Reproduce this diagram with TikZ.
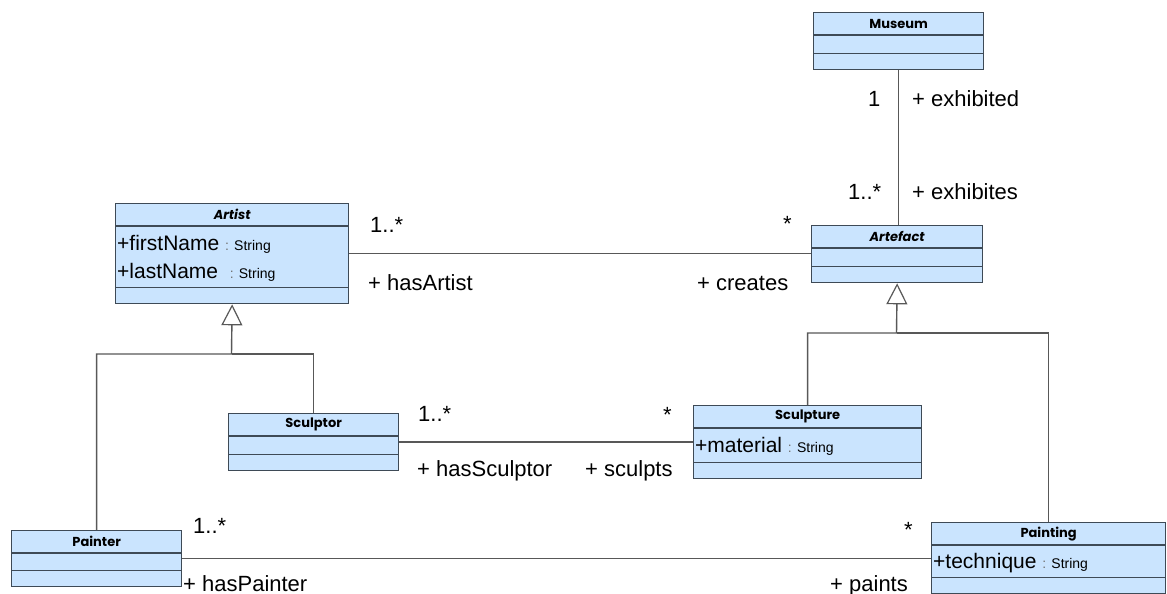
\documentclass[tikz,border=0pt]{standalone}
\usepackage{fontspec}
\setmainfont{Liberation Sans}
\newfontfamily\clsfont{Poppins}
\usetikzlibrary{arrows.meta,positioning}

\definecolor{clsfill}{RGB}{202,228,254}
\definecolor{clsline}{RGB}{62,74,86}
\definecolor{conn}{RGB}{88,88,88}

\begin{document}
\begin{tikzpicture}[
		x=1pt, y=-1pt,
		cls/.style={rectangle, draw=clsline, fill=clsfill, line width=1.3pt, anchor=north west, inner sep=0pt},
		clsname/.style={inner sep=0pt, minimum height=23pt, font=\clsfont\fontsize{13}{15}\selectfont\bfseries},
		attr/.style={anchor=base west, inner sep=0pt, font=\fontsize{21}{24}\selectfont},
		lbl/.style={anchor=base west, inner sep=0pt, font=\fontsize{22}{26}\selectfont},
		assoc/.style={draw=conn, line width=1.4pt},
		gen/.style={assoc, -{Triangle[open, length=21pt, width=21pt, line width=1.2pt]}}
	]
		\useasboundingbox (0,0) rectangle (1167,594);
		\newcommand{\typ}[1]{{\fontsize{14}{16}\selectfont\textcolor{black!55}{:} #1}}

		% classes
		\node[cls, minimum width=170pt, minimum height=57pt](museum) at (813,12) {};
		\node[cls, minimum width=233pt, minimum height=100pt](artist) at (115,203) {};
		\node[cls, minimum width=171pt, minimum height=57pt](artefact) at (811,225) {};
		\node[cls, minimum width=170pt, minimum height=57pt](sculptor) at (228,413) {};
		\node[cls, minimum width=228pt, minimum height=73pt](sculpture) at (693,405) {};
		\node[cls, minimum width=170pt, minimum height=56pt](painter) at (11,530) {};
		\node[cls, minimum width=234pt, minimum height=71pt](painting) at (931,522) {};

		\node[clsname, below=0pt of museum.north](museum-t){Museum};
		\node[clsname, below=0pt of artist.north](artist-t){\itshape Artist};
		\node[clsname, below=0pt of artefact.north](artefact-t){\itshape Artefact};
		\node[clsname, below=0pt of sculptor.north](sculptor-t){Sculptor};
		\node[clsname, below=0pt of sculpture.north](sculpture-t){Sculpture};
		\node[clsname, below=0pt of painter.north](painter-t){Painter};
		\node[clsname, below=0pt of painting.north](painting-t){Painting};

		\foreach \c in {museum,artist,artefact,sculptor,sculpture,painter,painting}{
			\draw[clsline, line width=1.1pt]([yshift=-23pt]\c.north west) -- ([yshift=-23pt]\c.north east);
			\draw[clsline, line width=1.1pt]([yshift=17pt]\c.south west) -- ([yshift=17pt]\c.south east);
		}

		% attributes
		\node[attr](artist-a1) at (117,250) {+firstName \typ{String}};
		\node[attr](artist-a2) at (117,278) {+lastName \ \typ{String}};
		\node[attr](sculpture-a1) at (695,452) {+material \typ{String}};
		\node[attr](painting-a1) at (933,568) {+technique \typ{String}};

		% associations
		\draw[assoc](museum.south) -- (museum.south |- artefact.north);
		\draw[assoc](artist.east) -- (artist.east -| artefact.west);
		\draw[assoc](sculptor.east) -- (sculptor.east -| sculpture.west);
		\draw[assoc](painter.east) -- (painter.east -| painting.west);

		% generalisations
		\coordinate(artist-fork) at (231.5,354);
		\coordinate(artefact-fork) at (896.5,333);
		\draw[gen](painter.north) |- (artist-fork) -- (artist.south);
		\draw[assoc](sculptor.north) |- (artist-fork);
		\draw[gen](sculpture.north) |- (artefact-fork) -- (artefact.south);
		\draw[assoc](painting.north) |- (artefact-fork);

		% ends
		\node[lbl](mus-m) at (868,106) {1};
		\node[lbl](mus-r) at (912,106) {+ exhibited};
		\node[lbl](exh-m) at (848,199) {1..*};
		\node[lbl](exh-r) at (912,199) {+ exhibites};
		\node[lbl](artist-m) at (370,232) {1..*};
		\node[lbl](artist-r) at (368,290) {+ hasArtist};
		\node[lbl](creates-m) at (783,231) {*};
		\node[lbl](creates-r) at (697,290) {+ creates};
		\node[lbl](sculptor-m) at (418,421) {1..*};
		\node[lbl](sculptor-r) at (417,476) {+ hasSculptor};
		\node[lbl](sculpts-m) at (663,422) {*};
		\node[lbl](sculpts-r) at (585,476) {+ sculpts};
		\node[lbl](painter-m) at (193,533) {1..*};
		\node[lbl](painter-r) at (183,591) {+ hasPainter};
		\node[lbl](paints-m) at (904,537) {*};
		\node[lbl](paints-r) at (830,591) {+ paints};
	\end{tikzpicture}
\end{document}
